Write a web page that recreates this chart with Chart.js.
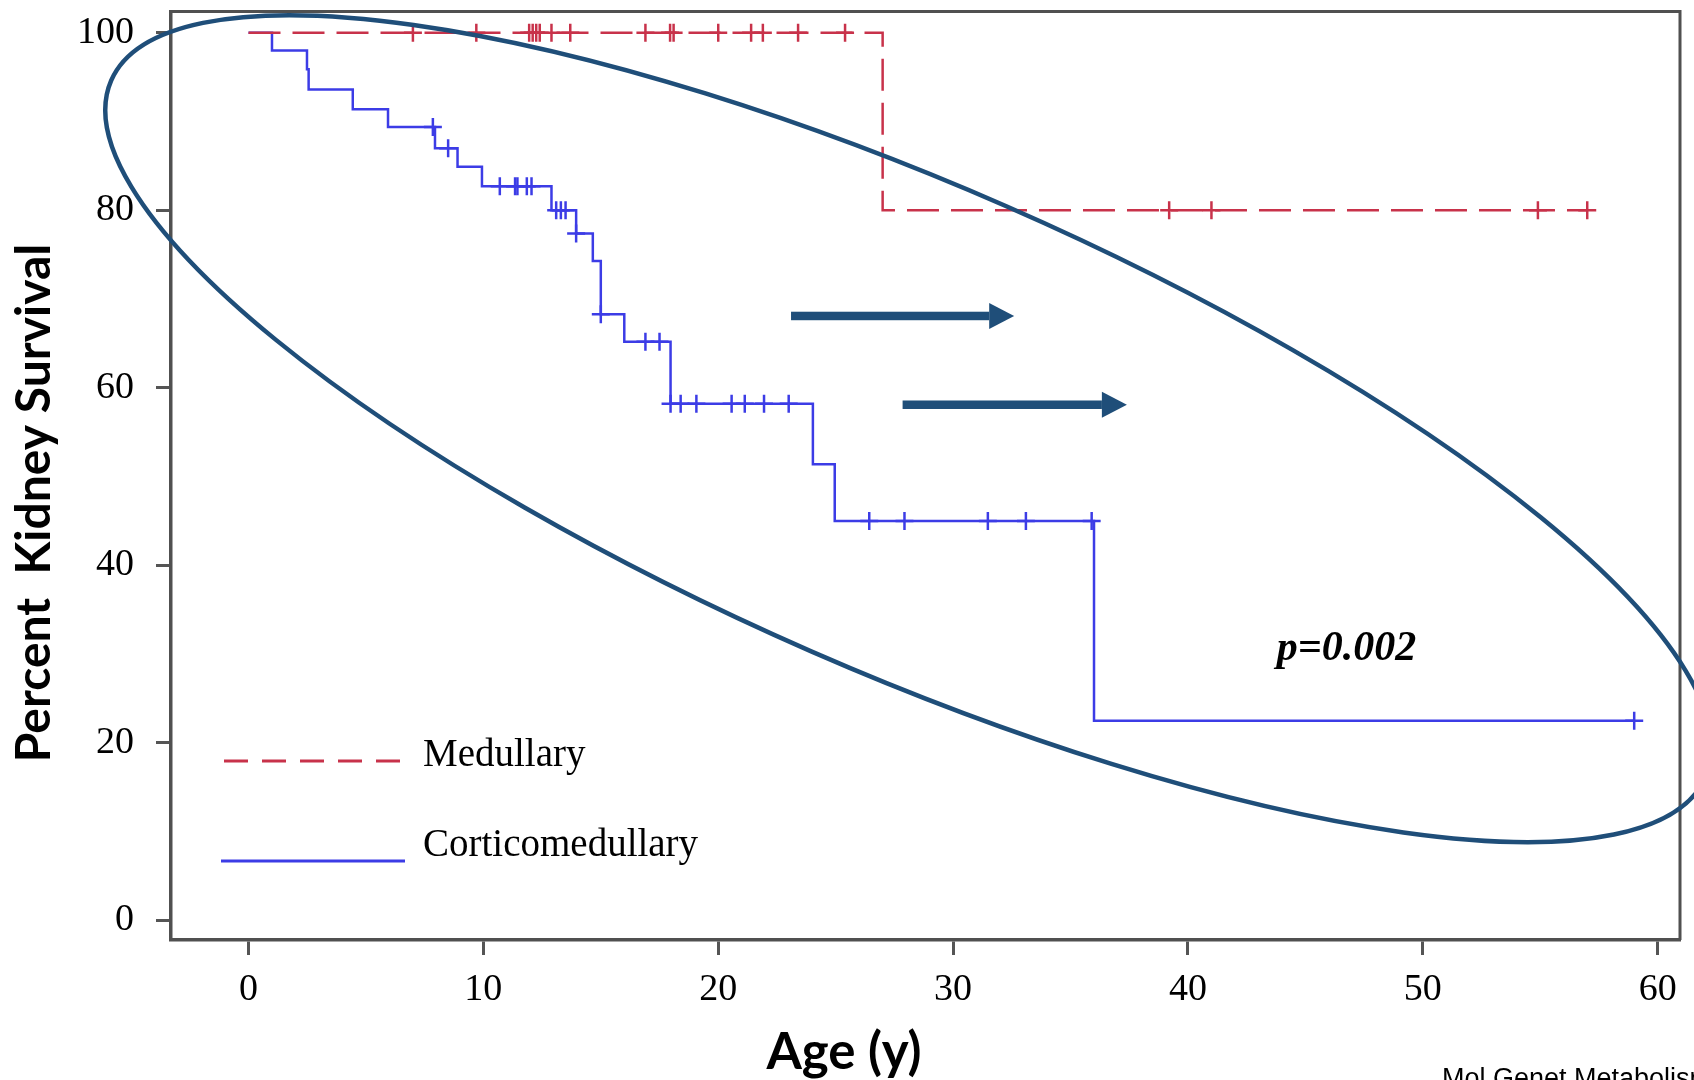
<!DOCTYPE html>
<html>
<head>
<meta charset="utf-8">
<title>Kidney survival by age</title>
<script src="https://cdn.jsdelivr.net/npm/chart.js@4.4.1/dist/chart.umd.min.js"></script>
<style>
  html, body { margin: 0; padding: 0; background: #fff; }
  #survivalChart { display: block; }
</style>
</head>
<body>
<canvas id="survivalChart" width="1694" height="1080"></canvas>
<script>
// Kaplan-Meier kidney survival, medullary vs corticomedullary cysts

// Medullary: age at each step and survival (%) after it
const medEventAge = [0, 27.0, 57.0];
const medEventPct = [100, 80, 80];
// Medullary censored patients (age, y)
const medCensorAge = [7.0, 9.7, 11.95, 12.1, 12.25, 12.4, 12.9, 13.7, 16.9, 17.95, 18.1, 20.0,
                      21.4, 21.9, 23.4, 25.4, 39.2, 41.0, 54.9, 57.0];

// Corticomedullary
const cmEventAge = [0, 1.0, 2.49, 2.56, 4.44, 5.94, 7.94, 8.9, 9.94, 12.9, 13.95, 14.66, 15.0,
                    16.0, 17.97, 24.03, 24.96, 36.0, 59.0];
const cmEventPct = [100, 98.0, 95.9, 93.6, 91.4, 89.4, 87.0, 84.9, 82.7, 80.0, 77.4, 74.3, 68.3,
                    65.2, 58.2, 51.4, 45.0, 22.5, 22.5];
const cmCensorAge = [7.85, 8.5, 10.7, 11.35, 11.45, 11.85, 12.05, 13.1, 13.3, 13.5, 13.95, 15.0,
                     16.9, 17.5, 17.97, 18.4, 19.07, 20.57, 21.13, 21.95, 23.0, 26.43, 27.93,
                     31.48, 33.1, 35.9, 59.0];

const seriesNames = ['Medullary', 'Corticomedullary'];
const xTicks = [0, 10, 20, 30, 40, 50, 60];
const yTicks = [0, 20, 40, 60, 80, 100];

const medColor = '#c8324a';
const cmColor = '#3c3ce6';
const navy = '#1f4e79';

// survival value of a step curve at age t (censor marks sit on the curve)
function survivalAt(ages, pcts, t) {
  let s = pcts[0];
  for (let i = 0; i < ages.length; i++) {
    if (ages[i] <= t + 1e-9) s = pcts[i];
  }
  return s;
}
const toPoints = (ages, pcts) => ages.map((a, i) => ({ x: a, y: pcts[i] }));
const censorPoints = (censors, ages, pcts) => censors.map(t => ({ x: t, y: survivalAt(ages, pcts, t) }));

// highlight ring and arrows, centre / ends in data units
const ring = { x: 28.1, y: 55.4, rx: 870, ry: 243, angle: 23.6 };
const arrows = [
  { from: 23.1, to: 32.6, y: 68.1 },
  { from: 27.85, to: 37.4, y: 58.1 }
];
const pLabel = { text: 'p=0.002', x: 46.75, y: 30.6 };

const serif = '"Liberation Serif", "Times New Roman", serif';

const extras = {
  id: 'extras',
  beforeDatasetsDraw(chart) {
    const { ctx, chartArea: a } = chart;
    // top and right frame
    ctx.save();
    ctx.strokeStyle = '#505050';
    ctx.lineWidth = 3;
    ctx.beginPath();
    ctx.moveTo(a.left, a.top);
    ctx.lineTo(a.right, a.top);
    ctx.lineTo(a.right, a.bottom);
    ctx.stroke();
    ctx.restore();
  },
  afterDatasetsDraw(chart) {
    const { ctx, chartArea: a, scales: { x, y } } = chart;
    ctx.save();

    // legend
    ctx.lineWidth = 3;
    ctx.strokeStyle = medColor;
    ctx.setLineDash([24, 14]);
    ctx.beginPath();
    ctx.moveTo(a.left + 53, a.bottom - 179);
    ctx.lineTo(a.left + 233, a.bottom - 179);
    ctx.stroke();
    ctx.setLineDash([]);
    ctx.strokeStyle = cmColor;
    ctx.beginPath();
    ctx.moveTo(a.left + 50, a.bottom - 79);
    ctx.lineTo(a.left + 234, a.bottom - 79);
    ctx.stroke();
    ctx.fillStyle = '#000';
    ctx.font = '39px ' + serif;
    ctx.textAlign = 'left';
    ctx.textBaseline = 'middle';
    ctx.fillText(seriesNames[0], a.left + 252, a.bottom - 184);
    ctx.fillText(seriesNames[1], a.left + 252, a.bottom - 94);

    // p value
    ctx.font = 'italic bold 42px ' + serif;
    ctx.textAlign = 'center';
    ctx.fillText(pLabel.text, x.getPixelForValue(pLabel.x), y.getPixelForValue(pLabel.y));

    // arrows
    ctx.fillStyle = navy;
    arrows.forEach(ar => {
      const x0 = x.getPixelForValue(ar.from);
      const x1 = x.getPixelForValue(ar.to);
      const yy = y.getPixelForValue(ar.y);
      const head = 25;
      ctx.fillRect(x0, yy - 4.25, x1 - head - x0, 8.5);
      ctx.beginPath();
      ctx.moveTo(x1 - head, yy - 13);
      ctx.lineTo(x1, yy);
      ctx.lineTo(x1 - head, yy + 13);
      ctx.closePath();
      ctx.fill();
    });

    // ring
    ctx.strokeStyle = navy;
    ctx.lineWidth = 4.5;
    ctx.beginPath();
    ctx.ellipse(x.getPixelForValue(ring.x), y.getPixelForValue(ring.y), ring.rx, ring.ry,
                ring.angle * Math.PI / 180, 0, Math.PI * 2);
    ctx.stroke();
    ctx.restore();
  },
  afterDraw(chart) {
    const { ctx } = chart;
    ctx.save();
    ctx.fillStyle = '#000';
    // axis titles
    ctx.font = 'bold 48px Lato, "Open Sans", sans-serif';
    ctx.textAlign = 'center';
    ctx.textBaseline = 'alphabetic';
    ctx.save();
    ctx.translate(50, 503);
    ctx.rotate(-Math.PI / 2);
    ctx.fillText('Percent  Kidney Survival', 0, 0);
    ctx.restore();
    ctx.font = 'bold 51px Lato, "Open Sans", sans-serif';
    ctx.fillText('Age (y)', 844, 1069);
    // source
    ctx.font = '27px "Liberation Sans", Arial, sans-serif';
    ctx.textAlign = 'left';
    ctx.fillText('Mol Genet Metabolism', 1442, 1087);
    ctx.restore();
  }
};

const tickFont = { family: serif, size: 38 };

new Chart(document.getElementById('survivalChart'), {
  type: 'scatter',
  data: {
    datasets: [
      {
        label: seriesNames[0],
        data: toPoints(medEventAge, medEventPct),
        showLine: true,
        stepped: true,
        borderColor: medColor,
        borderWidth: 2.5,
        borderDash: [32, 12],
        pointRadius: 0,
        fill: false
      },
      {
        label: seriesNames[0] + ' censored',
        data: censorPoints(medCensorAge, medEventAge, medEventPct),
        showLine: false,
        pointStyle: 'cross',
        pointRadius: 9,
        borderColor: medColor,
        pointBorderWidth: 2.5
      },
      {
        label: seriesNames[1],
        data: toPoints(cmEventAge, cmEventPct),
        showLine: true,
        stepped: true,
        borderColor: cmColor,
        borderWidth: 2.5,
        pointRadius: 0,
        fill: false
      },
      {
        label: seriesNames[1] + ' censored',
        data: censorPoints(cmCensorAge, cmEventAge, cmEventPct),
        showLine: false,
        pointStyle: 'cross',
        pointRadius: 9,
        borderColor: cmColor,
        pointBorderWidth: 2.5
      }
    ]
  },
  options: {
    responsive: false,
    animation: false,
    devicePixelRatio: 1,
    layout: { padding: { top: 9, right: 14, left: 0, bottom: 0 } },
    plugins: {
      legend: { display: false },
      tooltip: { enabled: false }
    },
    scales: {
      x: {
        type: 'linear',
        min: -3.3,
        max: 60.95,
        border: { display: true, color: '#505050', width: 3.5 },
        grid: { drawOnChartArea: false, drawTicks: true, tickLength: 15, tickWidth: 3, tickColor: '#555' },
        ticks: { font: tickFont, color: '#000', padding: 12, maxRotation: 0, autoSkip: false },
        afterBuildTicks: scale => { scale.ticks = xTicks.map(v => ({ value: v })); },
        afterFit: scale => {
          scale.height = 140;
          scale.paddingLeft = 0;
          scale.paddingRight = 0;
        }
      },
      y: {
        type: 'linear',
        min: -2.2,
        max: 102.4,
        border: { display: true, color: '#505050', width: 3.5 },
        grid: { drawOnChartArea: false, drawTicks: true, tickLength: 15, tickWidth: 3, tickColor: '#555' },
        ticks: { font: tickFont, color: '#000', padding: 22, autoSkip: false },
        afterBuildTicks: scale => { scale.ticks = yTicks.map(v => ({ value: v })); },
        afterFit: scale => {
          scale.width = 171;
          scale.paddingTop = 0;
          scale.paddingBottom = 0;
        }
      }
    }
  },
  plugins: [extras]
});
</script>
</body>
</html>
